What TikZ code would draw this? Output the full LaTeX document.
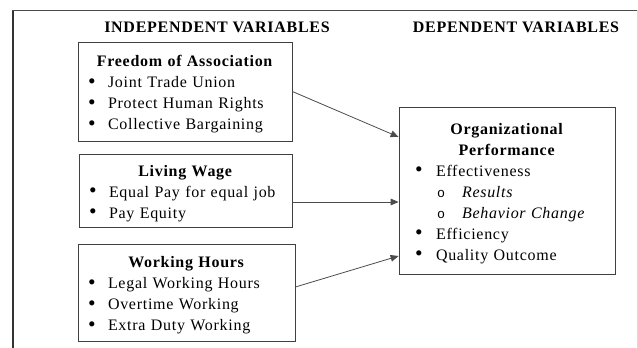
\documentclass[tikz,border=0pt]{standalone}
\usepackage{fontspec}
\setmainfont{Liberation Serif}[LetterSpace=4.5]
\setmonofont{Liberation Mono}
\usetikzlibrary{arrows.meta, calc}

\newlength{\pxu}
\setlength{\pxu}{0.75pt}
\newcommand{\boxtitle}[1]{\makebox[\linewidth]{\rule{0pt}{12.8pt}\textbf{#1}}}
\newcommand{\dotmark}{\raisebox{-0.4pt}{\scalebox{1.35}{\textbullet}}}
\newcommand{\bitem}[1]{\hspace*{10\pxu}\makebox[20\pxu][l]{\dotmark}#1}
\newcommand{\pitem}[1]{\hspace*{16\pxu}\makebox[21\pxu][l]{\dotmark}#1}
\newcommand{\oitem}[1]{\hspace*{38\pxu}\makebox[25\pxu][l]{\fontsize{10pt}{10pt}\ttfamily o}\textit{#1}}

\begin{document}
\begin{tikzpicture}[x=0.75pt, y=-0.75pt,
    varbox/.style = {draw=black!75, line width=0.6pt, inner sep=0pt, align=left,
                     font=\fontsize{12pt}{15.75pt}\selectfont},
    head/.style   = {font=\fontsize{12pt}{14pt}\selectfont\bfseries},
    link/.style   = {draw=black!70, line width=0.6pt, -{Triangle[length=6pt, width=5pt]}}]
    \useasboundingbox (0,0) rectangle (638,348);

    % frame
    \draw[line width=1.8pt, draw=black!80] (13,10) -- (13,348);
    \draw[line width=1.1pt, draw=black!70] (12,10.5) -- (638,10.5);
    \draw[black!15] (637.5,10) -- (637.5,348);

    \node[head] (indep) at (217,27) {INDEPENDENT VARIABLES};
    \node[head] (dep) at (516,27) {DEPENDENT VARIABLES};

    \node[varbox, text width=214\pxu, minimum height=99\pxu] (assoc) at (185,91.5) {
        \boxtitle{Freedom of Association}\\
        \bitem{Joint Trade Union}\\
        \bitem{Protect Human Rights}\\
        \bitem{Collective Bargaining}};
    \node[varbox, text width=213\pxu, minimum height=73\pxu] (wage) at (185.5,190.5) {
        \boxtitle{Living Wage}\\
        \bitem{Equal Pay for equal job}\\
        \bitem{Pay Equity}};
    \node[varbox, text width=217\pxu, minimum height=97\pxu] (hours) at (186.5,292.5) {
        \boxtitle{Working Hours}\\
        \bitem{Legal Working Hours}\\
        \bitem{Overtime Working}\\
        \bitem{Extra Duty Working}};
    \node[varbox, text width=216\pxu, minimum height=167\pxu] (perf) at (507,190.5) {
        \boxtitle{Organizational}\\
        \boxtitle{Performance}\\
        \pitem{Effectiveness}\\
        \oitem{Results}\\
        \oitem{Behavior Change}\\
        \pitem{Efficiency}\\
        \pitem{Quality Outcome}};

    \draw[link] (assoc.east) -- ($(perf.west)+(0,-53.5)$);
    \draw[link] ($(wage.east)+(0,11.5)$) -- ($(perf.west)+(0,11.5)$);
    \draw[link] ($(hours.east)+(0,-5.5)$) -- ($(perf.west)+(0,65.5)$);
\end{tikzpicture}
\end{document}
